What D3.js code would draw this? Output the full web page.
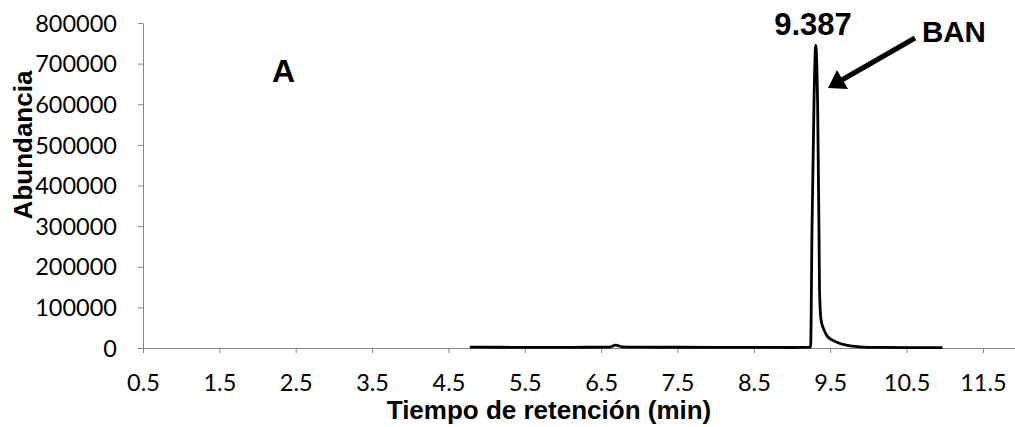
<!DOCTYPE html>
<html>
<head>
<meta charset="utf-8">
<script src="https://cdn.jsdelivr.net/npm/d3@7"></script>
<style>
	body { margin: 0; background: #fff; }
	svg { display: block; }
	.tick text { font-family: Lato, "Open Sans", sans-serif; font-size: 23.5px; fill: #000; }
	.bold { font-family: "Liberation Sans", Arial, sans-serif; font-weight: bold; fill: #000; }
</style>
</head>
<body>
<svg id="chart" width="1015" height="427"></svg>
<script>
// chromatogram
var times = [4.78, 5.2, 5.8, 6.3, 6.6, 6.69, 6.78, 7.0, 7.5, 8.0, 8.5, 9.0, 9.243,
	9.262, 9.289, 9.31, 9.335, 9.354, 9.36, 9.38, 9.42, 9.47, 9.58, 9.71, 9.88, 10.15, 10.6, 10.97];
var abundance = [2000, 1800, 1500, 1800, 2000, 7000, 2500, 2000, 1800, 1500, 1500, 1200, 2000,
	300000, 620000, 745000, 600000, 266000, 143000, 69000, 44000, 27000, 15000, 7000, 3000, 1500, 1000, 800];
var xTicks = [0.5, 1.5, 2.5, 3.5, 4.5, 5.5, 6.5, 7.5, 8.5, 9.5, 10.5, 11.5];
var yTicks = [0, 100000, 200000, 300000, 400000, 500000, 600000, 700000, 800000];
var peakLabel = "9.387", peakName = "BAN", panel = "A";

var svg = d3.select("#chart");
var plotLeft = 143, plotRight = 1015, plotTop = 23, plotBottom = 348;

var x = d3.scaleLinear().domain([0.5, 11.92]).range([plotLeft, plotRight]);
var y = d3.scaleLinear().domain([0, 800000]).range([plotBottom, plotTop]);

var gy = svg.append("g")
	.attr("transform", "translate(" + plotLeft + ",0)")
	.call(d3.axisLeft(y).tickValues(yTicks).tickSize(5).tickSizeOuter(0).tickPadding(21).tickFormat(d3.format("d")));
var gx = svg.append("g")
	.attr("transform", "translate(0," + plotBottom + ")")
	.call(d3.axisBottom(x).tickValues(xTicks).tickSize(5).tickSizeOuter(0).tickPadding(10).tickFormat(d3.format(".1f")));

[gx, gy].forEach(function(g) {
	g.attr("font-family", null).attr("font-size", null);
	g.selectAll("path.domain, .tick line").attr("stroke", "#868686");
});
gx.selectAll(".tick text").attr("y", 43).attr("dy", null);
gy.selectAll(".tick text").attr("dy", "0.35em");

var line = d3.line()
	.x(function(d, i) { return x(times[i]); })
	.y(function(d) { return y(d); })
	.curve(d3.curveMonotoneX);

svg.append("path")
	.datum(abundance)
	.attr("d", line)
	.attr("fill", "none")
	.attr("stroke", "#000")
	.attr("stroke-width", 2.8)
	.attr("stroke-linejoin", "round");

// axis titles
svg.append("text").attr("class", "bold")
	.attr("x", 549).attr("y", 419)
	.attr("text-anchor", "middle").attr("font-size", 26)
	.text("Tiempo de retención (min)");
svg.append("text").attr("class", "bold")
	.attr("transform", "translate(32,145) rotate(-90)")
	.attr("text-anchor", "middle").attr("font-size", 26)
	.text("Abundancia");

// annotations
svg.append("text").attr("class", "bold")
	.attr("x", 813).attr("y", 35).attr("text-anchor", "middle").attr("font-size", 31)
	.text(peakLabel);
svg.append("text").attr("class", "bold")
	.attr("x", 922).attr("y", 42).attr("font-size", 29.5)
	.text(peakName);
svg.append("text").attr("class", "bold")
	.attr("x", 272).attr("y", 82).attr("font-size", 32)
	.text(panel);

svg.append("line")
	.attr("x1", 915).attr("y1", 38).attr("x2", 840).attr("y2", 81)
	.attr("stroke", "#000").attr("stroke-width", 5);
svg.append("polygon")
	.attr("points", "828,88 837,70 848,89")
	.attr("fill", "#000");
</script>
</body>
</html>
